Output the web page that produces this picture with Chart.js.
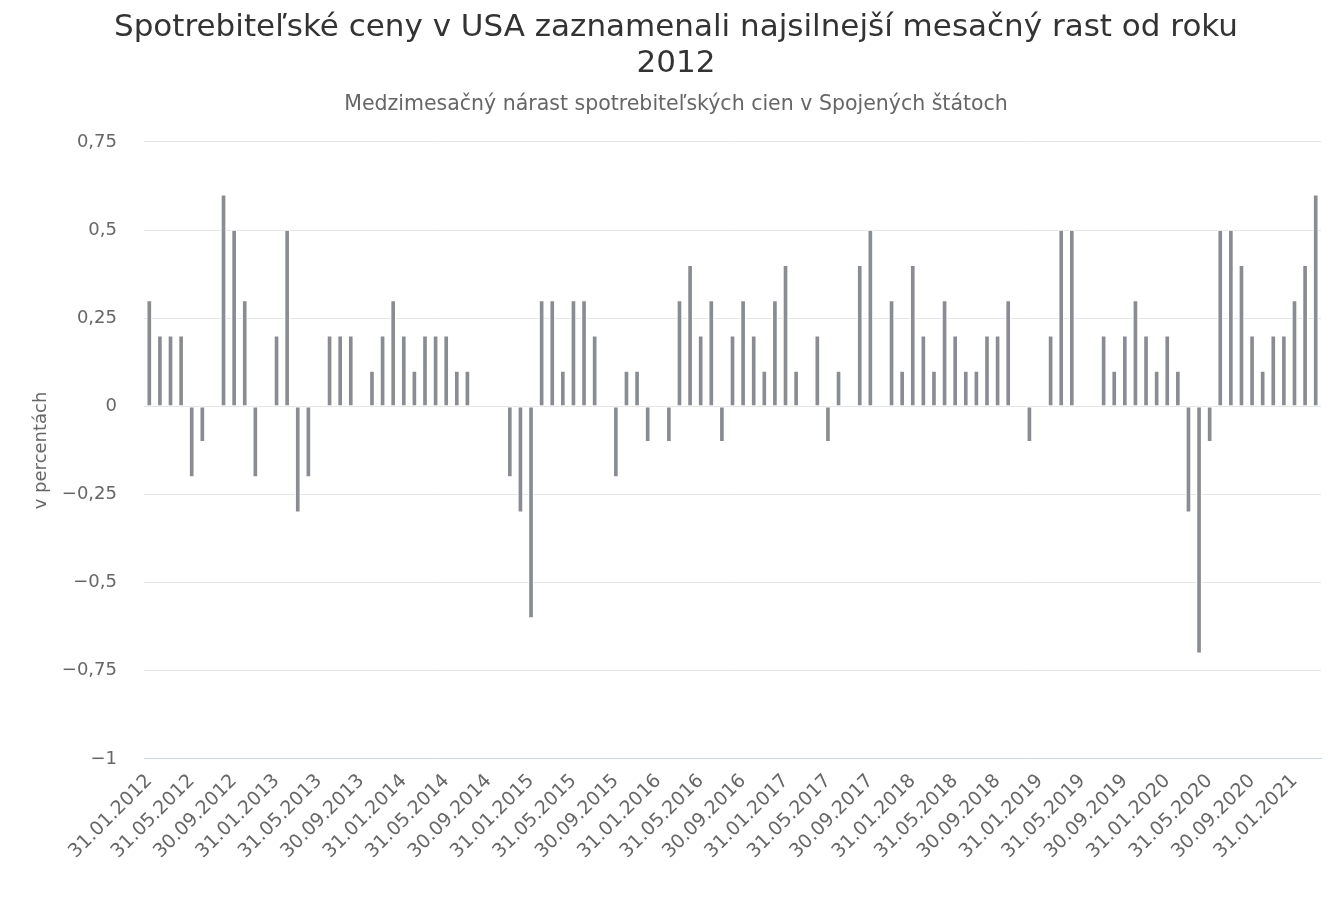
<!DOCTYPE html>
<html>

<head>
    <meta charset="utf-8">
    <script src="https://cdn.jsdelivr.net/npm/chart.js@4.4.0/dist/chart.umd.min.js"></script>
    <style>
        body {
            margin: 0;
            background: #ffffff;
        }

        #chart-container {
            width: 1338px;
            height: 900px;
            position: relative;
        }
    </style>
</head>

<body>
    <div id="chart-container">
        <canvas id="cpiChart"></canvas>
    </div>
    <script>
        // monthly CPI change (m/m, %), Jan 2012 - Mar 2021
        const firstYear = 2012;
        const values = [
            0.3, 0.2, 0.2, 0.2, -0.2, -0.1, 0, 0.6, 0.5, 0.3, -0.2, 0,      // 2012
            0.2, 0.5, -0.3, -0.2, 0, 0.2, 0.2, 0.2, 0, 0.1, 0.2, 0.3,       // 2013
            0.2, 0.1, 0.2, 0.2, 0.2, 0.1, 0.1, 0, 0, 0, -0.2, -0.3,         // 2014
            -0.6, 0.3, 0.3, 0.1, 0.3, 0.3, 0.2, 0, -0.2, 0.1, 0.1, -0.1,    // 2015
            0, -0.1, 0.3, 0.4, 0.2, 0.3, -0.1, 0.2, 0.3, 0.2, 0.1, 0.3,     // 2016
            0.4, 0.1, 0, 0.2, -0.1, 0.1, 0, 0.4, 0.5, 0, 0.3, 0.1,          // 2017
            0.4, 0.2, 0.1, 0.3, 0.2, 0.1, 0.1, 0.2, 0.2, 0.3, 0, -0.1,      // 2018
            0, 0.2, 0.5, 0.5, 0, 0, 0.2, 0.1, 0.2, 0.3, 0.2, 0.1,           // 2019
            0.2, 0.1, -0.3, -0.7, -0.1, 0.5, 0.5, 0.4, 0.2, 0.1, 0.2, 0.2,  // 2020
            0.3, 0.4, 0.6                                                  // 2021
        ];
        const yTicks = [0.75, 0.5, 0.25, 0, -0.25, -0.5, -0.75, -1];

        const titleText = ['Spotrebiteľské ceny v USA zaznamenali najsilnejší mesačný rast od roku', '2012'];
        const subtitleText = 'Medzimesačný nárast spotrebiteľských cien v Spojených štátoch';
        const yTitle = 'v percentách';

        // end-of-month date labels, dd.mm.yyyy
        const labels = values.map(function (v, i) {
            const y = firstYear + Math.floor(i / 12);
            const m = i % 12;
            const d = new Date(y, m + 1, 0).getDate();
            return String(d).padStart(2, '0') + '.' + String(m + 1).padStart(2, '0') + '.' + y;
        });

        function fmt(v) {
            const r = Math.round(v * 100) / 100;
            return (r < 0 ? '\u2212' : '') + String(Math.abs(r)).replace('.', ',');
        }

        Chart.defaults.font.family = '"DejaVu Sans", sans-serif';

        const barColor = '#898c92';
        const ctx = document.getElementById('cpiChart').getContext('2d');
        const cpiChart = new Chart(ctx, {
            type: 'bar',
            data: {
                labels: labels,
                datasets: [{
                    label: 'CPI m/m',
                    data: values,
                    // zero months draw nothing, like the original
                    backgroundColor: c => c.raw === 0 ? 'rgba(0,0,0,0)' : barColor,
                    borderColor: c => c.raw === 0 ? 'rgba(0,0,0,0)' : '#ffffff',
                    borderWidth: 1,
                    borderSkipped: false,
                    barThickness: 5
                }]
            },
            options: {
                responsive: true,
                maintainAspectRatio: false,
                animation: false,
                layout: {
                    padding: { left: 31, right: 17, top: 0, bottom: 34 }
                },
                plugins: {
                    legend: { display: false },
                    tooltip: { enabled: false },
                    title: {
                        display: true,
                        text: titleText,
                        color: '#333333',
                        font: { size: 31, weight: 'normal', lineHeight: 1.15 },
                        padding: { top: 10, bottom: 11 }
                    },
                    subtitle: {
                        display: true,
                        text: subtitleText,
                        color: '#666666',
                        font: { size: 20.5, weight: 'normal', lineHeight: 1.2 },
                        padding: { top: 0, bottom: 25 }
                    }
                },
                scales: {
                    x: {
                        grid: { display: false },
                        border: { display: true, color: '#ccd6eb' },
                        afterFit: function (axis) {
                            // let the rotated labels hang out to the left like the original
                            axis.paddingLeft = 0;
                            axis.paddingRight = 0;
                        },
                        ticks: {
                            autoSkip: false,
                            minRotation: 45,
                            maxRotation: 45,
                            color: '#666666',
                            font: { size: 19 },
                            callback: function (val, i) {
                                return i % 4 === 0 ? this.getLabelForValue(val) : '';
                            }
                        }
                    },
                    y: {
                        min: yTicks[yTicks.length - 1],
                        max: yTicks[0],
                        border: { display: false },
                        grid: { color: '#e6e6e6', drawTicks: false },
                        afterBuildTicks: function (axis) {
                            axis.ticks = yTicks.map(v => ({ value: v }));
                        },
                        afterFit: function (axis) {
                            axis.width = 113;
                        },
                        ticks: {
                            color: '#666666',
                            font: { size: 18 },
                            padding: 27,
                            callback: function (v) { return fmt(v); }
                        },
                        title: {
                            display: true,
                            text: yTitle,
                            color: '#666666',
                            font: { size: 18 },
                            padding: { top: 0, bottom: 9 }
                        }
                    }
                }
            }
        });
    </script>
</body>

</html>
